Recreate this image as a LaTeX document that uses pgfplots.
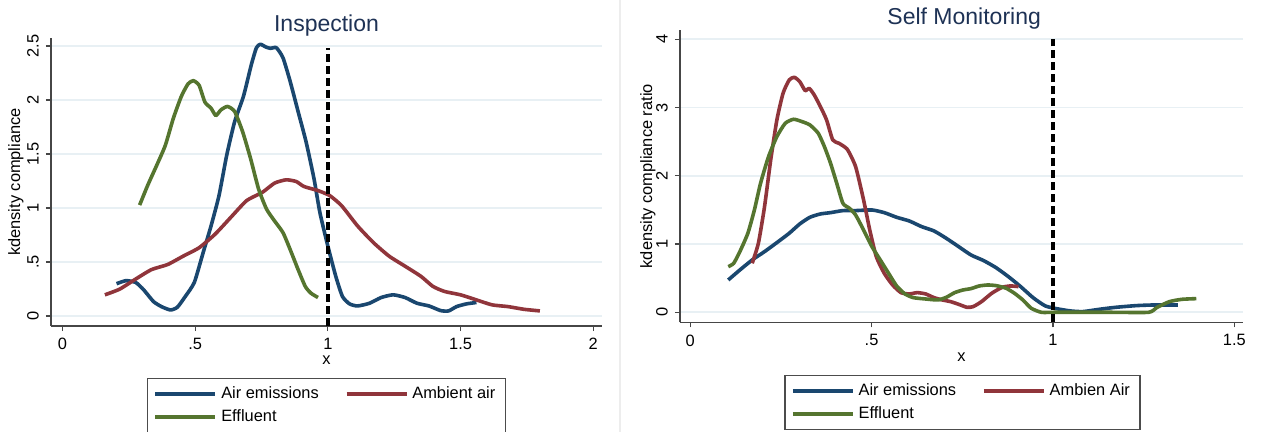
\documentclass[border=0pt]{standalone}
\usepackage{fontspec}
\setmainfont{Liberation Sans}
\usepackage{pgfplots}
\pgfplotsset{compat=1.18}

\definecolor{stnavy}{RGB}{26,71,111}
\definecolor{stmaroon}{RGB}{144,53,59}
\definecolor{stgreen}{RGB}{85,117,47}
\definecolor{gridc}{RGB}{232,240,244}
\definecolor{titlec}{RGB}{30,50,85}
\definecolor{axc}{RGB}{70,70,70}

\pgfplotsset{
  stata/.style={
    scale only axis,
    anchor=south west,
    axis x line*=bottom,
    axis y line*=left,
    axis line style={-, draw=axc, line width=0.6pt},
    tick align=outside,
    major tick length=2.6pt,
    tick style={draw=axc, line width=0.6pt},
    ymajorgrids,
    grid style={draw=gridc, line width=0.8pt},
    ticklabel style={font=\fontsize{8.2}{10}\selectfont},
    yticklabel style={rotate=90, anchor=south},
    xlabel style={font=\fontsize{8.2}{10}\selectfont, anchor=center},
    ylabel style={font=\fontsize{8.2}{10}\selectfont, anchor=center},
    title style={font=\fontsize{11.5}{13}\selectfont, text=titlec, anchor=center},
    legend style={anchor=north, draw=black!70, line width=0.6pt, legend columns=2,
      font=\fontsize{8.2}{10}\selectfont, inner xsep=3pt, inner ysep=2pt,
      /tikz/every even column/.append style={column sep=11pt}},
    legend cell align=left,
    legend image code/.code={\draw[##1, line width=1.8pt] (0pt,0pt) -- (30pt,0pt);},
    every axis plot/.append style={line width=1.8pt, line join=round, smooth, tension=0.35},
  }
}

\begin{document}
\begin{tikzpicture}
\fill[white] (0pt,0pt) rectangle (630.5pt,216pt);
\useasboundingbox (0pt,0pt) rectangle (630.5pt,216pt);
\draw[black!7, line width=0.8pt] (310pt,0pt) -- (310pt,216pt);

% ---------------- Inspection ----------------
\begin{axis}[stata,
  at={(25.5pt,53pt)}, width=275.5pt, height=144pt,
  xmin=-0.043, xmax=2.033, ymin=-0.0926, ymax=2.574,
  xtick={0,0.5,1,1.5,2}, xticklabels={0,.5,1,1.5,2},
  ytick={0,0.5,1,1.5,2,2.5}, yticklabels={0,.5,1,1.5,2,2.5},
  title={Inspection}, title style={at={(axis description cs:0.5,1.052)}, yshift=-7.5pt},
  xlabel={x}, xlabel style={at={(axis description cs:0.5,-0.118)}},
  ylabel={kdensity compliance}, ylabel style={at={(axis description cs:-0.0635,0.5)}},
  legend style={at={(axis description cs:0.5,-0.1806)}},
]
\addplot[stnavy] coordinates {
(0.204,0.299) (0.239,0.327) (0.276,0.311) (0.306,0.243) (0.343,0.134) (0.373,0.087)
(0.407,0.056) (0.433,0.081) (0.463,0.181) (0.497,0.311) (0.530,0.585) (0.560,0.834)
(0.590,1.115) (0.619,1.488) (0.649,1.800) (0.682,2.033) (0.712,2.329) (0.731,2.484)
(0.746,2.516) (0.766,2.491) (0.784,2.478) (0.806,2.484) (0.831,2.391) (0.858,2.173)
(0.888,1.893) (0.918,1.613) (0.948,1.270) (0.970,0.959) (1.000,0.648) (1.030,0.367)
(1.055,0.181) (1.082,0.112) (1.112,0.093) (1.157,0.118) (1.201,0.171) (1.246,0.196)
(1.291,0.171) (1.336,0.118) (1.381,0.093) (1.425,0.050) (1.455,0.047) (1.485,0.087)
(1.522,0.112) (1.560,0.125)
};
\addlegendentry{Air emissions}
\addplot[stmaroon] coordinates {
(0.160,0.196) (0.216,0.249) (0.276,0.342) (0.336,0.430) (0.396,0.476) (0.455,0.554)
(0.515,0.632) (0.575,0.757) (0.634,0.912) (0.694,1.068) (0.754,1.146) (0.799,1.230)
(0.843,1.261) (0.881,1.245) (0.910,1.199) (0.963,1.161) (1.007,1.115) (1.052,1.021)
(1.112,0.834) (1.172,0.679) (1.231,0.554) (1.291,0.461) (1.351,0.367) (1.396,0.274)
(1.440,0.227) (1.500,0.196) (1.560,0.149) (1.619,0.103) (1.679,0.087) (1.739,0.062)
(1.799,0.047)
};
\addlegendentry{Ambient air}
\addplot[stgreen] coordinates {
(0.291,1.027) (0.321,1.208) (0.358,1.410) (0.388,1.582) (0.418,1.831) (0.448,2.033)
(0.473,2.148) (0.493,2.179) (0.515,2.136) (0.537,1.980) (0.560,1.924) (0.578,1.856)
(0.597,1.908) (0.622,1.940) (0.649,1.893) (0.679,1.706) (0.709,1.457) (0.739,1.177)
(0.769,0.990) (0.799,0.881) (0.831,0.772) (0.858,0.616) (0.888,0.430) (0.915,0.274)
(0.936,0.212) (0.963,0.171)
};
\addlegendentry{Effluent}
\addplot[black, line width=2pt, dash pattern=on 4pt off 2pt, sharp plot, forget plot]
  coordinates {(1,-0.0926) (1,2.48)};
\end{axis}

% ---------------- Self Monitoring ----------------
\begin{axis}[stata,
  at={(340pt,54.85pt)}, width=281.35pt, height=146.15pt,
  xmin=-0.028, xmax=1.523, ymin=-0.1465, ymax=4.136,
  xtick={0,0.5,1,1.5}, xticklabels={0,.5,1,1.5},
  ytick={0,1,2,3,4}, yticklabels={0,1,2,3,4},
  title={Self Monitoring}, title style={at={(axis description cs:0.505,1.051)}, yshift=-7.5pt},
  xlabel={x}, xlabel style={at={(axis description cs:0.5,-0.119)}},
  ylabel={kdensity compliance ratio}, ylabel style={at={(axis description cs:-0.0569,0.5)}},
  legend style={at={(axis description cs:0.502,-0.180)}},
]
\addplot[stnavy] coordinates {
(0.105,0.474) (0.137,0.620) (0.171,0.767) (0.205,0.889) (0.239,1.021) (0.273,1.158)
(0.302,1.294) (0.330,1.392) (0.359,1.441) (0.387,1.460) (0.421,1.490) (0.456,1.490)
(0.501,1.499) (0.535,1.460) (0.569,1.392) (0.604,1.338) (0.638,1.255) (0.672,1.192)
(0.706,1.084) (0.740,0.962) (0.774,0.840) (0.809,0.757) (0.843,0.654) (0.877,0.523)
(0.911,0.376) (0.945,0.215) (0.979,0.093) (1.014,0.049) (1.048,0.020) (1.082,0.010)
(1.128,0.044) (1.173,0.073) (1.230,0.098) (1.276,0.107) (1.344,0.107)
};
\addlegendentry{Air emissions}
\addplot[stmaroon] coordinates {
(0.171,0.718) (0.188,1.011) (0.205,1.548) (0.222,2.232) (0.239,2.818) (0.256,3.209)
(0.273,3.404) (0.287,3.443) (0.302,3.380) (0.317,3.248) (0.328,3.282) (0.342,3.184)
(0.359,3.013) (0.376,2.818) (0.393,2.525) (0.410,2.476) (0.433,2.388) (0.456,2.134)
(0.478,1.646) (0.495,1.206) (0.513,0.816) (0.535,0.571) (0.558,0.400) (0.581,0.288)
(0.604,0.269) (0.626,0.288) (0.649,0.269) (0.672,0.215) (0.695,0.181) (0.718,0.156)
(0.740,0.117) (0.763,0.073) (0.780,0.083) (0.803,0.156) (0.831,0.278) (0.860,0.366)
(0.883,0.386) (0.905,0.376)
};
\addlegendentry{Ambien Air}
\addplot[stgreen] coordinates {
(0.105,0.669) (0.120,0.718) (0.137,0.889) (0.159,1.158) (0.177,1.499) (0.194,1.890)
(0.216,2.281) (0.239,2.574) (0.262,2.769) (0.285,2.828) (0.308,2.794) (0.330,2.745)
(0.353,2.623) (0.370,2.427) (0.387,2.183) (0.404,1.890) (0.421,1.597) (0.439,1.524)
(0.456,1.426) (0.478,1.206) (0.501,0.962) (0.524,0.767) (0.547,0.571) (0.569,0.386)
(0.592,0.269) (0.615,0.215) (0.649,0.195) (0.683,0.181) (0.706,0.220) (0.729,0.288)
(0.752,0.327) (0.774,0.347) (0.797,0.386) (0.820,0.400) (0.843,0.391) (0.871,0.352)
(0.894,0.278) (0.917,0.181) (0.940,0.059) (0.968,0.000) (1.002,0.000) (1.048,0.000)
(1.162,0.000) (1.264,0.000) (1.287,0.073) (1.321,0.156) (1.355,0.190) (1.395,0.200)
};
\addlegendentry{Effluent}
\addplot[black, line width=2pt, dash pattern=on 4pt off 2pt, sharp plot, forget plot]
  coordinates {(1,-0.1465) (1,4.0)};
\end{axis}
\end{tikzpicture}
\end{document}
